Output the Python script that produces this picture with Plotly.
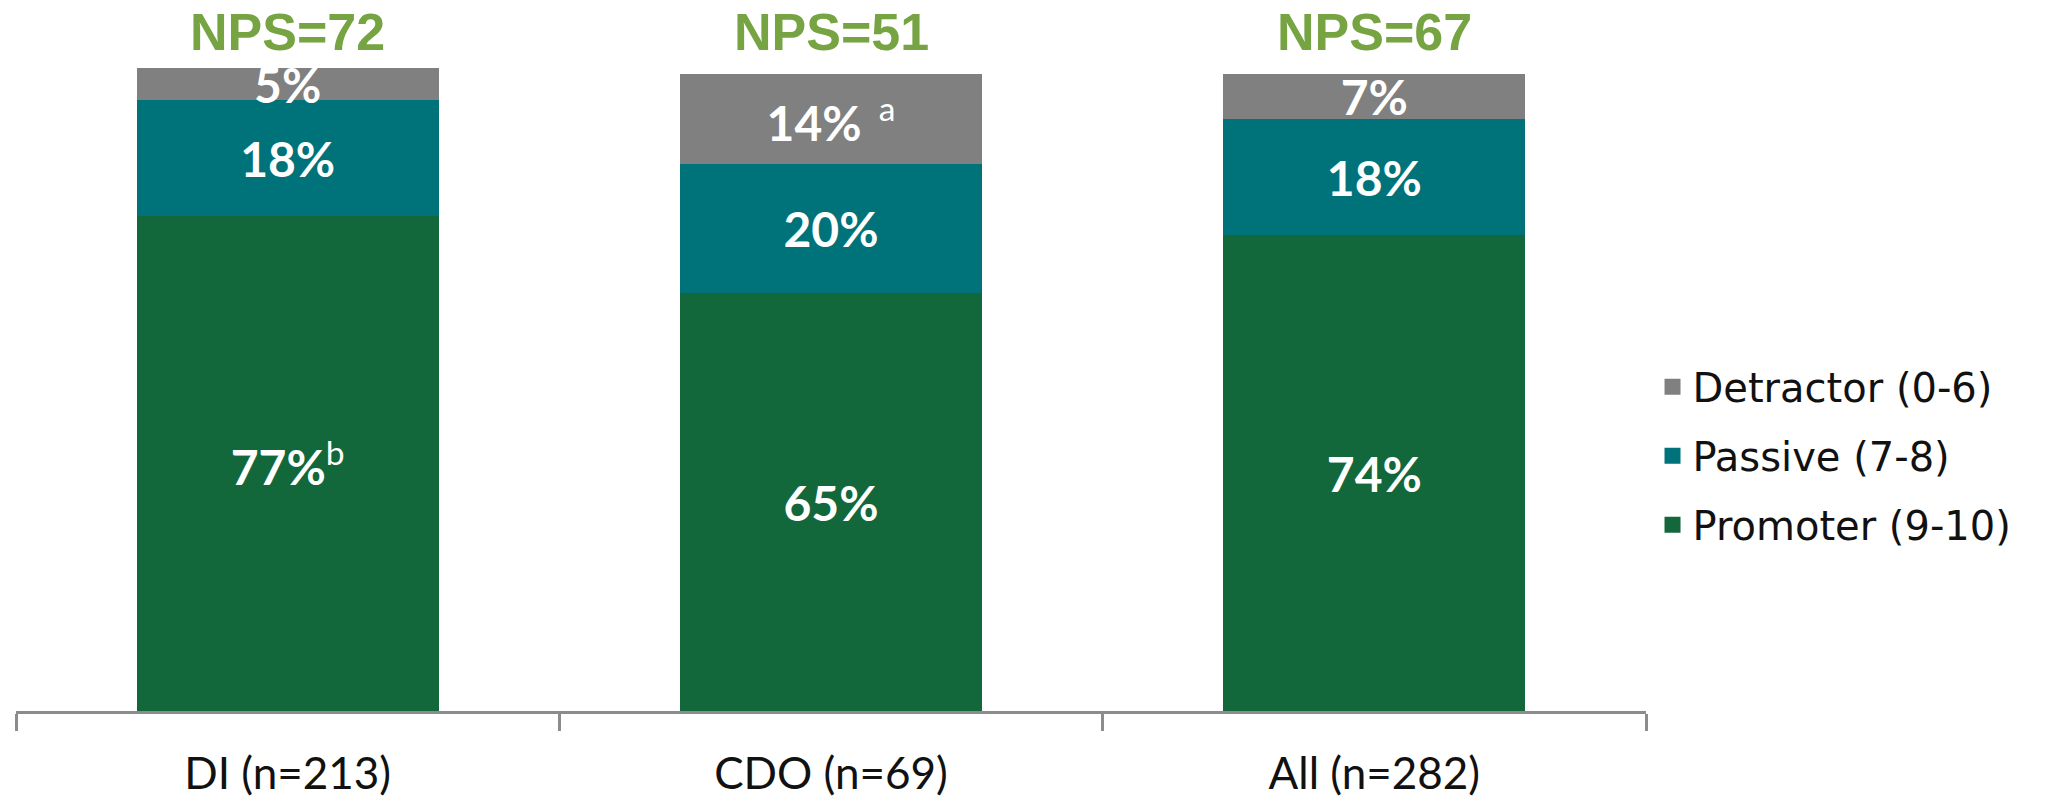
import plotly.graph_objects as go

categories = ["DI (n=213)", "CDO (n=69)", "All (n=282)"]
promoter = [77, 65, 74]
passive = [18, 20, 18]
detractor = [5, 14, 7]
promoter_labels = ["77%<sup><span style='font-weight:normal'>b</span></sup>", "65%", "74%"]
passive_labels = ["18%", "20%", "18%"]
detractor_labels = ["5%", "14%<sup><span style='font-weight:normal'>  a</span></sup>", "7%"]
nps = [72, 51, 67]

series = [
    ("Promoter (9-10)", promoter, promoter_labels, "#12673B"),
    ("Passive (7-8)", passive, passive_labels, "#00727A"),
    ("Detractor (0-6)", detractor, detractor_labels, "#808080"),
]

fig = go.Figure()
for name, vals, labels, color in series:
    fig.add_trace(go.Bar(
        x=categories, y=vals, name=name, text=labels,
        textposition="inside", insidetextanchor="middle",
        textfont=dict(family="Lato", size=48, color="white", weight="bold"),
        marker=dict(color=color, line=dict(width=0)),
        cliponaxis=True, showlegend=False, constraintext="none",
    ))

# legend-only entries (top to bottom), larger square swatches
for name, vals, labels, color in reversed(series):
    fig.add_trace(go.Scatter(
        x=[None], y=[None], mode="markers", name=name,
        marker=dict(symbol="square", size=16, color=color),
        legendgroup=name, showlegend=True,
    ))

for c, v in zip(categories, nps):
    fig.add_annotation(
        x=c, y=100, xref="x", yref="y", text=f"NPS={v}", showarrow=False,
        yanchor="middle", yshift=36,
        font=dict(family="Liberation Sans", size=52, color="#77A443", weight="bold"),
    )

fig.update_layout(
    width=2052, height=810,
    margin=dict(l=16, r=406, t=68, b=97),
    barmode="stack", bargap=0.444,
    plot_bgcolor="white", paper_bgcolor="white",
    showlegend=True,
    legend=dict(
        x=1.004, xanchor="left", y=0.397, yanchor="middle",
        traceorder="grouped", tracegroupgap=14, itemsizing="trace",
        font=dict(family="DejaVu Sans", size=40, color="#111111"),
        bgcolor="rgba(0,0,0,0)",
    ),
)
fig.update_xaxes(
    showline=True, linecolor="#8C8C8C", linewidth=3,
    ticks="outside", tickson="boundaries", ticklen=17, tickwidth=3, tickcolor="#8C8C8C",
    tickfont=dict(family="Lato", size=44, color="#111111"),
    ticklabelstandoff=22, showgrid=False, zeroline=False,
)
fig.update_yaxes(range=[0, 100], visible=False, showgrid=False)

fig.write_html("out.html")
